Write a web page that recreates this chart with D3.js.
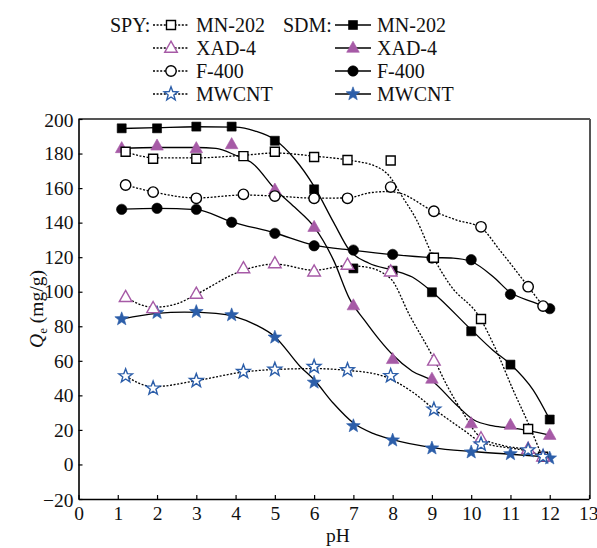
<!DOCTYPE html>
<html><head><meta charset="utf-8">
<script src="https://cdn.jsdelivr.net/npm/d3@7"></script>
<style>
html,body{margin:0;padding:0;background:#fff;}
svg{display:block;}
text{font-family:"Liberation Serif","Times New Roman",serif;fill:#111;}
</style></head>
<body>
<svg id="chart" width="597" height="548"></svg>
<script>
// ---------- DATA ----------
const seriesNames = ["MN-202", "XAD-4", "F-400", "MWCNT"];
const xTicks = [0,1,2,3,4,5,6,7,8,9,10,11,12,13];
const yTicks = [-20,0,20,40,60,80,100,120,140,160,180,200];

const spyPH = [1.2,1.9,3.0,4.2,5.0,6.0,6.85,7.95,9.05,10.25,11.45,11.83];
const sdmPH = [1.1,2,3,3.9,5,6,7,8,9,10,11,12];

const spyMN202 = [181,177,177,178.5,181,178,176.3,176,119.7,84.2,20.5,4.5];
const spyXAD4  = [96.8,90.4,98.7,113.5,116.4,111.6,115.5,111.6,60,15,8.9,4.5];
const spyF400  = [161.8,157.7,154.1,156.4,155.4,154.1,154.1,160.6,146.6,137.6,102.9,91.7];
const spyMWCNT = [51.2,44.1,48.5,53.7,55,56.6,54.7,51.3,31.9,11.7,8.3,4.5];

const sdmMN202 = [194.6,194.6,195.6,195.6,187.4,159.3,113.5,112.2,99.7,77.1,57.8,26];
const sdmXAD4  = [183,184.5,183,185.3,159,137.4,92,60.9,49.5,23.7,22.8,17];
const sdmF400  = [147.7,148.3,147.7,140.2,133.8,126.6,124.1,121.6,119.5,118.5,98.5,90.2];
const sdmMWCNT = [84.2,87.9,88.4,86.5,73.6,47.5,22.3,14,9.4,7.1,6.1,3.6];

// fitted curves: [pH, Qe]
const fitSdmMN202 = [[1.1,194.5],[2,195],[3,195.5],[4,195.3],[4.5,193],[5,188],[5.5,177],[6,161],[6.5,140],[6.9,124],[7.4,116.5],[8,112.5],[8.5,108.5],[9,100],[10,78],[10.56,66],[11,58],[11.58,43],[12,26]];
const fitSdmXAD4  = [[1.1,183],[2,183.5],[3,183.5],[3.5,183],[4,179],[4.45,174],[5,159.5],[5.5,149],[6,137.5],[6.5,118],[6.9,96],[7.3,83],[7.67,72],[8,63.5],[8.5,54],[9,48.5],[9.6,35],[10.05,26],[10.56,22.3],[11.07,21],[12,17]];
const fitSdmF400  = [[1.1,147.8],[2,148.2],[3,147.5],[3.9,140.5],[5,134],[6,127],[7,124],[8,121.5],[9,119.8],[9.54,119.5],[10,117.5],[10.56,108.7],[11,99.5],[11.58,94],[12,90.2]];
const fitSdmMWCNT = [[1.1,84.2],[2,87.5],[2.7,88.2],[3.5,87.5],[4,85.5],[4.5,81],[5,74],[5.65,56.6],[6,49],[6.49,35.4],[7,24],[7.5,18],[8,14.4],[9,9.8],[10,7.5],[11,5.9],[12,4.2]];

const fitSpyMN202 = [[1.2,181],[1.6,178.5],[2,177.5],[3,177.5],[4.2,179],[5,180.3],[6,178.5],[6.84,176.3],[7.59,172.4],[7.93,166.6],[8.19,157],[8.61,141.5],[9.03,120.3],[9.46,104],[10.22,85],[10.6,68],[11.07,43],[11.45,24],[11.8,5]];
const fitSpyXAD4  = [[1.2,96.8],[1.9,91],[2.5,93],[3,98.5],[4.2,112.5],[5,116],[6,112.5],[6.83,115],[7.25,114.5],[7.93,108],[8.44,86],[9.03,62],[9.4,45],[9.8,29.6],[10.22,16],[10.8,11],[11.4,8.5],[11.83,4.5]];
const fitSpyF400  = [[1.2,161.8],[1.9,157.8],[3,154.3],[4.2,156],[5,155.4],[6,154.2],[6.84,154.3],[7.42,157.3],[7.9,158],[8.19,157],[9.04,146.6],[9.63,141.5],[10.25,137],[10.73,124],[11.45,103],[11.83,91.7]];
const fitSpyMWCNT = [[1.2,51.2],[1.9,45],[3,48.5],[4.2,53.5],[5,55],[6,55.5],[6.83,54.5],[7.67,51.8],[8.5,42],[9.03,32.5],[9.8,20],[10.25,13],[11.45,7.5],[11.83,4.5]];

// ---------- STYLE ----------
const PURPLE = "#a65aa6", BLUE = "#2c5ea9", BLACK = "#000";
const markerKind = ["square","triangle","circle","star"];
const markerColor = [BLACK, PURPLE, BLACK, BLUE];

const svg = d3.select("#chart");
const L = 78.5, R = 589, T = 119, B = 499;
const x = d3.scaleLinear().domain([0,13]).range([L,R]);
const y = d3.scaleLinear().domain([-20,200]).range([B,T]);

function starPath(ro, ri){
  let p = [];
  for(let i=0;i<10;i++){
    const r = i%2===0 ? ro : ri;
    const a = -Math.PI/2 + i*Math.PI/5;
    p.push([r*Math.cos(a), r*Math.sin(a)]);
  }
  return "M"+p.map(d=>d[0].toFixed(2)+","+d[1].toFixed(2)).join("L")+"Z";
}
function markerPath(kind){
  if(kind==="square") return "M-4.5,-4.5H4.5V4.5H-4.5Z";
  if(kind==="triangle") return "M0,-6.8L6.3,4.3L-6.3,4.3Z";
  if(kind==="circle") return d3.symbol().type(d3.symbolCircle).size(Math.PI*5.2*5.2)();
  return starPath(7.2, 3.0);
}
function drawMarker(g, kind, color, filled, cx, cy){
  const p = g.append("path").attr("d", markerPath(kind))
    .attr("transform", `translate(${cx},${cy})`);
  if(filled) p.attr("fill", color).attr("stroke", color).attr("stroke-width", 0.6);
  else p.attr("fill", "#fff").attr("stroke", color).attr("stroke-width", 1.4);
}

// ---------- FRAME ----------
svg.append("line").attr("x1",L).attr("x2",R+1).attr("y1",T).attr("y2",T)
  .attr("stroke","#555").attr("stroke-width",2);
svg.append("line").attr("x1",R+1).attr("x2",R+1).attr("y1",T).attr("y2",B)
  .attr("stroke","#555").attr("stroke-width",2);

const xAxis = d3.axisBottom(x).tickValues(xTicks).tickFormat(d3.format("d"))
  .tickSizeInner(-4).tickSizeOuter(0).tickPadding(7);
const gx = svg.append("g").attr("transform",`translate(0,${B})`).call(xAxis);
const yAxis = d3.axisLeft(y).tickValues(yTicks).tickFormat(d3.format("d"))
  .tickSizeInner(-4).tickSizeOuter(0).tickPadding(5);
const gy = svg.append("g").attr("transform",`translate(${L},0)`).call(yAxis);
[gx,gy].forEach(g=>{
  g.select(".domain").attr("stroke","#000").attr("stroke-width",1.6);
  g.selectAll(".tick line").attr("stroke","#000").attr("stroke-width",1.2);
  g.selectAll(".tick text").style("font-family","'Liberation Serif','Times New Roman',serif")
    .style("font-size","19.5px").attr("fill","#111");
});
gx.selectAll(".tick text").filter(d=>d===13).attr("text-anchor","end").attr("x",9);
gy.selectAll(".tick text").filter(d=>d===200||d===-20).attr("dy","0.36em");

// axis titles
svg.append("text").attr("x",338).attr("y",542).attr("text-anchor","middle")
  .style("font-size","19.5px").text("pH");
const yt = svg.append("text").attr("transform","translate(43,309) rotate(-90)")
  .attr("text-anchor","middle").style("font-size","19.5px");
yt.append("tspan").style("font-style","italic").text("Q");
yt.append("tspan").attr("dy",4).style("font-size","13px").text("e");
yt.append("tspan").attr("dy",-4).text(" (mg/g)");

// ---------- CURVES ----------
const line = d3.line().x(d=>x(d[0])).y(d=>y(d[1])).curve(d3.curveMonotoneX);
const sdmFits = [fitSdmMN202, fitSdmXAD4, fitSdmF400, fitSdmMWCNT];
const spyFits = [fitSpyMN202, fitSpyXAD4, fitSpyF400, fitSpyMWCNT];
const sdmVals = [sdmMN202, sdmXAD4, sdmF400, sdmMWCNT];
const spyVals = [spyMN202, spyXAD4, spyF400, spyMWCNT];

const gCurves = svg.append("g").attr("fill","none");
sdmFits.forEach(f=>gCurves.append("path").attr("d",line(f))
  .attr("stroke","#000").attr("stroke-width",1.3));
spyFits.forEach(f=>gCurves.append("path").attr("d",line(f))
  .attr("stroke","#000").attr("stroke-width",1.3).attr("stroke-dasharray","2,1.6"));

// ---------- MARKERS ----------
const gm = svg.append("g");
sdmVals.forEach((vals,i)=>vals.forEach((v,j)=>
  drawMarker(gm, markerKind[i], markerColor[i], true, x(sdmPH[j]), y(v))));
spyVals.forEach((vals,i)=>vals.forEach((v,j)=>
  drawMarker(gm, markerKind[i], markerColor[i], false, x(spyPH[j]), y(v))));

// ---------- LEGEND ----------
const legRows = [25,48,71,94];
const lg = svg.append("g");
lg.append("text").attr("x",110).attr("y",legRows[0]+7).style("font-size","20px").text("SPY:");
lg.append("text").attr("x",283).attr("y",legRows[0]+7).style("font-size","20px").text("SDM:");
seriesNames.forEach((name,i)=>{
  const yy = legRows[i];
  lg.append("line").attr("x1",153).attr("x2",189).attr("y1",yy).attr("y2",yy)
    .attr("stroke","#000").attr("stroke-width",1.3).attr("stroke-dasharray","2,1.6");
  drawMarker(lg, markerKind[i], markerColor[i], false, 171, yy);
  lg.append("text").attr("x",196).attr("y",yy+7).style("font-size","20px").text(name);
  lg.append("line").attr("x1",335).attr("x2",371).attr("y1",yy).attr("y2",yy)
    .attr("stroke","#000").attr("stroke-width",1.3);
  drawMarker(lg, markerKind[i], markerColor[i], true, 353, yy);
  lg.append("text").attr("x",377).attr("y",yy+7).style("font-size","20px").text(name);
});
</script>
</body></html>
